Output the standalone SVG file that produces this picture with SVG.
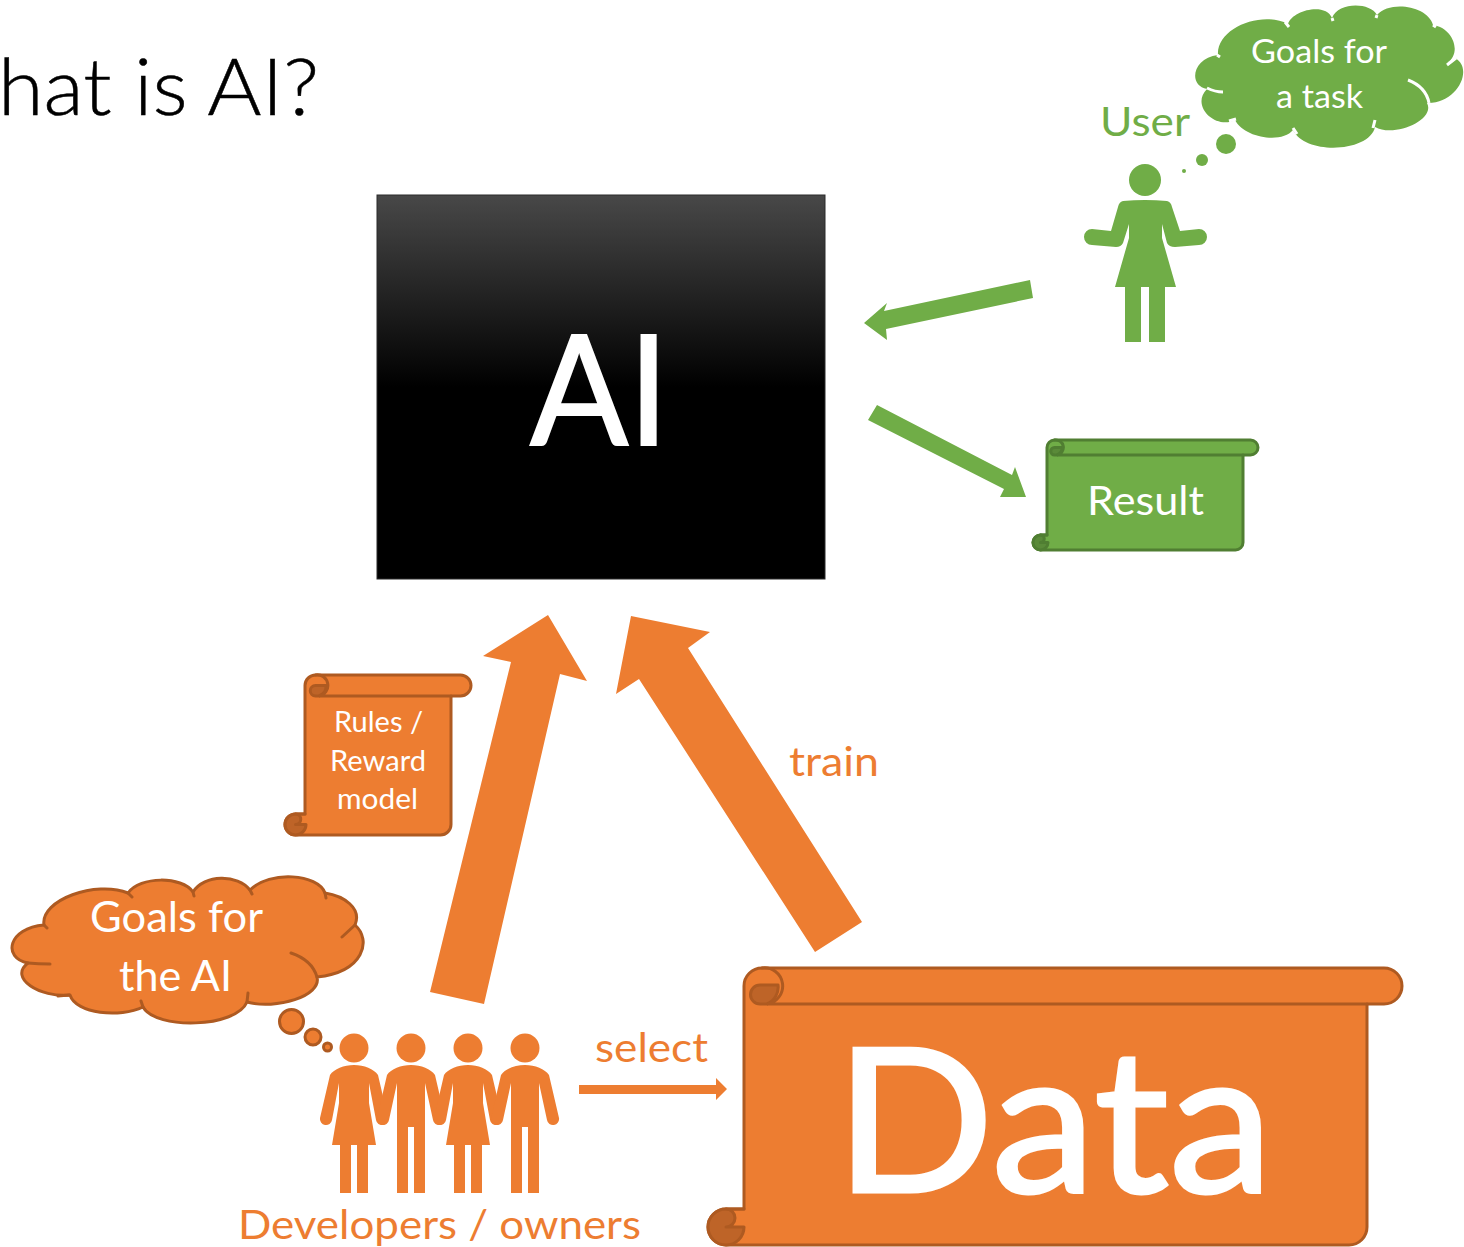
<svg xmlns="http://www.w3.org/2000/svg" width="1464" height="1247" viewBox="0 0 1464 1247">
<style>
text{font-family:"Lato","Carlito","Liberation Sans",sans-serif;font-weight:400}
.w{fill:#fff}.o{fill:#ED7D31}.g{fill:#70AD47}
.os{fill:#ED7D31;stroke:#AE5A21;stroke-width:3;stroke-linejoin:round}
.od{fill:#BE6428;stroke:#AE5A21;stroke-width:3;stroke-linejoin:round}
.gs{fill:#70AD47;stroke:#507E32;stroke-width:3;stroke-linejoin:round}
.gd{fill:#5A8A39;stroke:#507E32;stroke-width:3;stroke-linejoin:round}
.ol{fill:none;stroke:#AE5A21;stroke-width:3;stroke-linecap:round}
.gl{fill:none;stroke:#507E32;stroke-width:3;stroke-linecap:round}
.wl{fill:none;stroke:#fff;stroke-width:3}
</style>
<defs>
<linearGradient id="aiGrad" x1="0" y1="0" x2="0" y2="1"><stop offset="0" stop-color="#484848"/><stop offset="0.5" stop-color="#000"/><stop offset="1" stop-color="#000"/></linearGradient>
<g id="woman"><circle cx="0" cy="1048" r="14.5"/><path d="M0,1065C-10,1065-20,1069-24,1075L-34,1118A6,6 0 0 0-22,1120L-15,1083L-15,1103L-22,1145L-14,1145L-14,1193L-3,1193L-3,1145L3,1145L3,1193L14,1193L14,1145L22,1145L15,1103L15,1083L22,1120A6,6 0 0 0 34,1118L24,1075C20,1069 10,1065 0,1065Z"/></g>
<g id="man"><circle cx="0" cy="1048" r="14.5"/><path d="M0,1065C-10,1065-20,1069-24,1075L-34,1118A6,6 0 0 0-22,1120L-14,1083L-14,1193L-3,1193L-3,1127L3,1127L3,1193L14,1193L14,1083L22,1120A6,6 0 0 0 34,1118L24,1075C20,1069 10,1065 0,1065Z"/></g>
</defs>

<text id="title" x="-2" y="115" font-size="78" style="font-weight:300" fill="#000" stroke="#000" stroke-width="0.5" textLength="321" lengthAdjust="spacingAndGlyphs">hat is AI?</text>

<g id="ai">
<rect x="377" y="195" width="448" height="384" fill="url(#aiGrad)" stroke="#2a2a2a" stroke-width="1"/>
<text class="w" x="530" y="445" font-size="153" stroke="#fff" stroke-width="2" textLength="139" lengthAdjust="spacingAndGlyphs">AI</text>
</g>

<g id="connectors">
<polygon class="o" points="430,992 511,662 483,656 548,615 587,681 560,674 484,1004"/>
<polygon class="o" points="862,922 815,952 639,679 616,694 631,616 710,632 688,648"/>
<polygon class="g" points="1030,280 1033,298 886,329 887,340 864,323 887,303 884,311"/>
<polygon class="g" points="877,405 868,420 1004,489 1000,497 1026,497 1015,467 1012,475"/>
<polygon class="o" points="579,1085 716,1085 716,1078 727,1089 716,1100 716,1094 579,1094"/>
</g>

<g id="user">
<text class="g" x="1100" y="136" font-size="40" textLength="90" lengthAdjust="spacingAndGlyphs">User</text>
<circle class="g" cx="1145" cy="180" r="16"/>
<path class="g" d="M1123,201Q1145,199 1167,201Q1171,202 1172,207L1180,231L1199,229A8,8 0 0 1 1199,245L1175,247Q1169,247 1167,243L1162,224L1162,238L1176,287L1165,287L1165,342L1149,342L1149,287L1141,287L1141,342L1125,342L1125,287L1115,287L1129,238L1129,224L1123,243Q1121,247 1116,247L1092,245A8,8 0 0 1 1092,229L1111,231L1118,207Q1119,202 1123,201Z"/>
</g>

<g id="user-thought">
<circle class="g" cx="1226" cy="144" r="10"/>
<circle class="g" cx="1202" cy="160" r="6"/>
<circle class="g" cx="1184" cy="171" r="2"/>
<path class="g" d="M1218,55C1216,28 1262,10 1288,24C1292,10 1326,2 1332,18C1338,2 1370,2 1377,15C1390,0 1428,6 1433,25C1454,28 1462,54 1447,63L1455,58C1474,68 1458,104 1427,103C1436,120 1394,138 1375,127C1370,152 1306,156 1293,130C1282,144 1244,138 1235,120C1216,130 1190,106 1207,89C1188,86 1192,58 1218,55Z"/>
<path class="wl" d="M1408,80Q1426,87 1429,103M1207,88Q1215,92 1223,92M1285,22L1289,27M1217,55L1220,57M1332,18L1333,21M1377,15L1376,18M1433,25L1436,27M1447,65L1456,58M1375,120L1373,128M1293,128L1297,134M1229,121L1236,119"/>
<text class="w" x="1251" y="63" font-size="33" textLength="136" lengthAdjust="spacingAndGlyphs">Goals for</text>
<text class="w" x="1276" y="108" font-size="33" textLength="87" lengthAdjust="spacingAndGlyphs">a task</text>
</g>

<g id="result">
<path class="gs" d="M1047,447.500A7.500,7.500 0 0 1 1054.500,440L1250.500,440A7.500,7.500 0 0 1 1250.500,455L1243,455L1243,542.500A7.500,7.500 0 0 1 1235.500,550L1040.500,550A7.500,7.500 0 0 1 1040.500,535L1047,535Z"/>
<path class="gd" d="M1054.500,447.500L1062,447.500A7.500,7.500 0 0 1 1057,455L1054.500,455A3.750,3.750 0 0 1 1054.500,447.500Z"/>
<path class="gd" d="M1040.500,535A7.500,7.500 0 1 0 1040.500,550A7.500,7.500 0 0 0 1048,542.500L1040.500,542.500A3.750,3.750 0 0 0 1040.500,535Z"/>
<path class="gl" d="M1054.500,440A7.500,7.500 0 0 1 1057,455L1243,455M1040.500,535L1047,535"/>
<text class="w" x="1087" y="515" font-size="41" textLength="117" lengthAdjust="spacingAndGlyphs">Result</text>
</g>

<g id="rules">
<path class="os" d="M305,685.500A10.500,10.500 0 0 1 315.500,675L460.500,675A10.500,10.500 0 0 1 460.500,696L451,696L451,824.500A10.500,10.500 0 0 1 440.500,835L295.500,835A10.500,10.500 0 0 1 295.500,814L305,814Z"/>
<path class="od" d="M315.500,685.500L326,685.500A10.500,10.500 0 0 1 319,696L315.500,696A5.250,5.250 0 0 1 315.500,685.500Z"/>
<path class="od" d="M295.500,814A10.500,10.500 0 1 0 295.500,835A10.500,10.500 0 0 0 306,824.500L295.500,824.500A5.250,5.250 0 0 0 295.500,814Z"/>
<path class="ol" d="M315.500,675A10.500,10.500 0 0 1 319,696L451,696M295.500,814L305,814"/>
<text class="w" x="334" y="732" font-size="28" textLength="89" lengthAdjust="spacingAndGlyphs">Rules /</text>
<text class="w" x="330" y="771" font-size="28" textLength="96" lengthAdjust="spacingAndGlyphs">Reward</text>
<text class="w" x="337" y="809" font-size="28" textLength="81" lengthAdjust="spacingAndGlyphs">model</text>
</g>

<g id="ai-goals">
<circle class="os" cx="291.500" cy="1021.500" r="12"/>
<circle class="os" cx="313" cy="1037" r="8"/>
<circle class="os" cx="327.500" cy="1047" r="4"/>
<path class="os" d="M44,925C40,900 96,880 128,893C140,876 182,876 193,892C204,874 238,874 250,890C270,870 318,874 325,893C344,896 362,908 355,925C372,940 364,972 317,977C322,996 276,1010 247,1002C236,1028 156,1030 143,1007C120,1018 76,1014 70,995C40,998 8,978 28,963C2,958 8,928 44,925Z"/>
<path class="ol" d="M291,953Q312,960 317,977M28,963Q38,964 50,964M44,925L47,928M128,893L132,897M193,892L194,896M250,890L252,894M325,893L326,898M342,937L355,925M247,1002L248,993M143,1007L141,1001M69,995L58,996"/>
<text class="w" x="90" y="932" font-size="42" textLength="173" lengthAdjust="spacingAndGlyphs">Goals for</text>
<text class="w" x="119" y="991" font-size="42" textLength="113" lengthAdjust="spacingAndGlyphs">the AI</text>
</g>

<g id="developers">
<use href="#woman" class="o" x="354"/>
<use href="#man" class="o" x="411"/>
<use href="#woman" class="o" x="468"/>
<use href="#man" class="o" x="525"/>
<text class="o" x="238" y="1239" font-size="40" textLength="403" lengthAdjust="spacingAndGlyphs">Developers / owners</text>
</g>

<g id="data">
<path class="os" d="M744,986A18,18 0 0 1 762,968L1384,968A18,18 0 0 1 1384,1004L1367,1004L1367,1227A18,18 0 0 1 1349,1245L726,1245A18,18 0 0 1 726,1209L744,1209Z"/>
<path class="od" d="M760,985L778,985A18,18 0 0 1 767,1004L760,1004A9.500,9.500 0 0 1 760,985Z"/>
<path class="od" d="M726,1209A18,18 0 1 0 726,1245A18,18 0 0 0 744,1227L726,1227A9,9 0 0 0 726,1209Z"/>
<path class="ol" d="M762,968A18,18 0 0 1 767,1004L1367,1004M726,1209L744,1209"/>
<text class="w" x="835" y="1192" font-size="200" stroke="#fff" stroke-width="3" textLength="438" lengthAdjust="spacingAndGlyphs">Data</text>
</g>

<text id="train" class="o" x="789" y="776" font-size="40" textLength="90" lengthAdjust="spacingAndGlyphs">train</text>
<text id="select" class="o" x="595" y="1062" font-size="40" textLength="113" lengthAdjust="spacingAndGlyphs">select</text>
</svg>
